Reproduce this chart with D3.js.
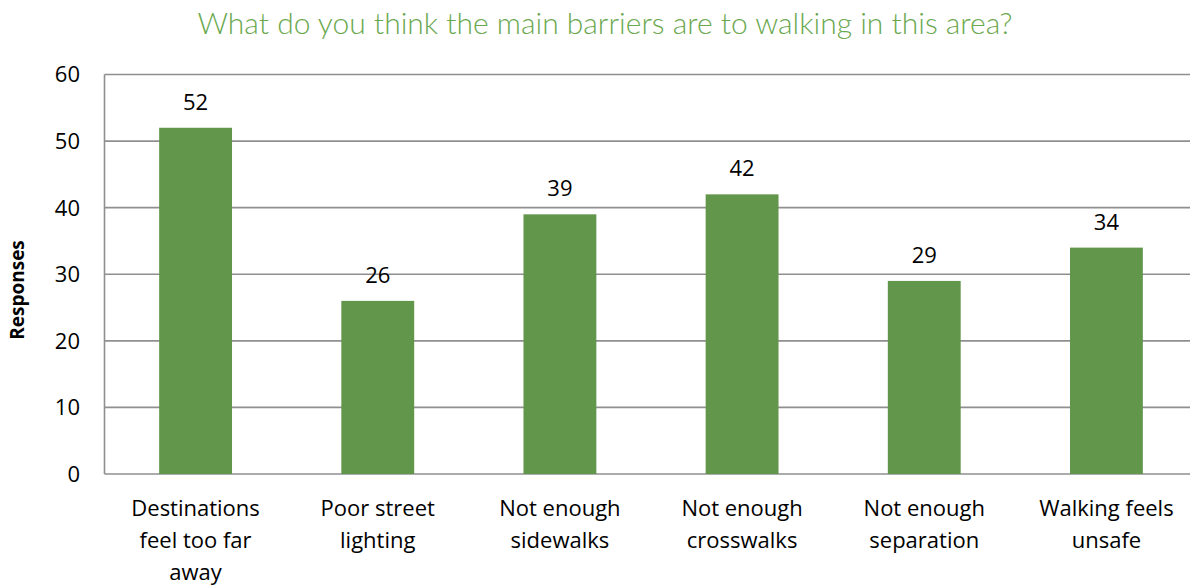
<!DOCTYPE html>
<html><head><meta charset="utf-8">
<script src="https://cdn.jsdelivr.net/npm/d3@7"></script>
<style>body{margin:0;background:#fff;} svg{display:block;}</style>
</head><body>
<svg id="c" width="1190" height="586"></svg>
<script>
const categories = [
  ["Destinations", "feel too far", "away"],
  ["Poor street", "lighting"],
  ["Not enough", "sidewalks"],
  ["Not enough", "crosswalks"],
  ["Not enough", "separation"],
  ["Walking feels", "unsafe"]
];
const values = [52, 26, 39, 42, 29, 34];
const yTicks = [0, 10, 20, 30, 40, 50, 60];
const titleText = "What do you think the main barriers are to walking in this area?";
const yTitle = "Responses";

const svg = d3.select("#c");
const m = {left: 104.5, right: 1197.5, top: 74.5, bottom: 474};
const font = "'Open Sans', 'Noto Sans', sans-serif";
const fs = 22;

const x = d3.scaleBand().domain(d3.range(categories.length)).range([m.left, m.right]).paddingInner(0).paddingOuter(0);
const y = d3.scaleLinear().domain([0, 60]).range([m.bottom, m.top]);

// gridlines
svg.append("g").selectAll("line").data(yTicks).join("line")
  .attr("x1", m.left).attr("x2", 1190)
  .attr("y1", d => y(d)).attr("y2", d => y(d))
  .attr("stroke", "#8f8f8f").attr("stroke-width", 1.6);

// y axis line
svg.append("line").attr("x1", m.left).attr("x2", m.left)
  .attr("y1", y(60)).attr("y2", y(0)).attr("stroke", "#8f8f8f").attr("stroke-width", 1.6);

// y tick labels
svg.append("g").selectAll("text").data(yTicks).join("text")
  .attr("x", 80).attr("y", d => y(d)).attr("dy", "0.36em")
  .attr("text-anchor", "end").attr("font-family", font).attr("font-size", fs)
  .attr("fill", "#000").text(d => d);

// bars
const bw = x.bandwidth() * 0.4;
svg.append("g").selectAll("rect").data(values).join("rect")
  .attr("x", (d, i) => x(i) + x.bandwidth() / 2 - bw / 2)
  .attr("width", bw)
  .attr("y", d => y(d)).attr("height", d => y(0) - y(d))
  .attr("fill", "#61964b");

// data labels
svg.append("g").selectAll("text").data(values).join("text")
  .attr("x", (d, i) => x(i) + x.bandwidth() / 2)
  .attr("y", d => y(d) - 26).attr("dy", "0.36em")
  .attr("text-anchor", "middle").attr("font-family", font).attr("font-size", fs)
  .attr("fill", "#000").text(d => d);

// category labels
const cl = svg.append("g").selectAll("text").data(categories).join("text")
  .attr("text-anchor", "middle").attr("font-family", font).attr("font-size", fs).attr("fill", "#000");
cl.each(function(lines, i) {
  d3.select(this).selectAll("tspan").data(lines).join("tspan")
    .attr("x", x(i) + x.bandwidth() / 2)
    .attr("y", (d, j) => 516 + j * 32).text(d => d);
});

// y title
svg.append("text").attr("transform", "translate(17,290) rotate(-90)")
  .attr("text-anchor", "middle").attr("dy", "0.35em")
  .attr("font-family", font).attr("font-size", 19).attr("font-weight", "bold").text(yTitle);

// title
svg.append("text").attr("x", 605).attr("y", 34)
  .attr("text-anchor", "middle").attr("font-family", "Lato, 'Noto Sans', sans-serif")
  .attr("font-weight", 300).attr("font-size", 30).attr("fill", "#6aa84f").text(titleText);
</script>
</body></html>
